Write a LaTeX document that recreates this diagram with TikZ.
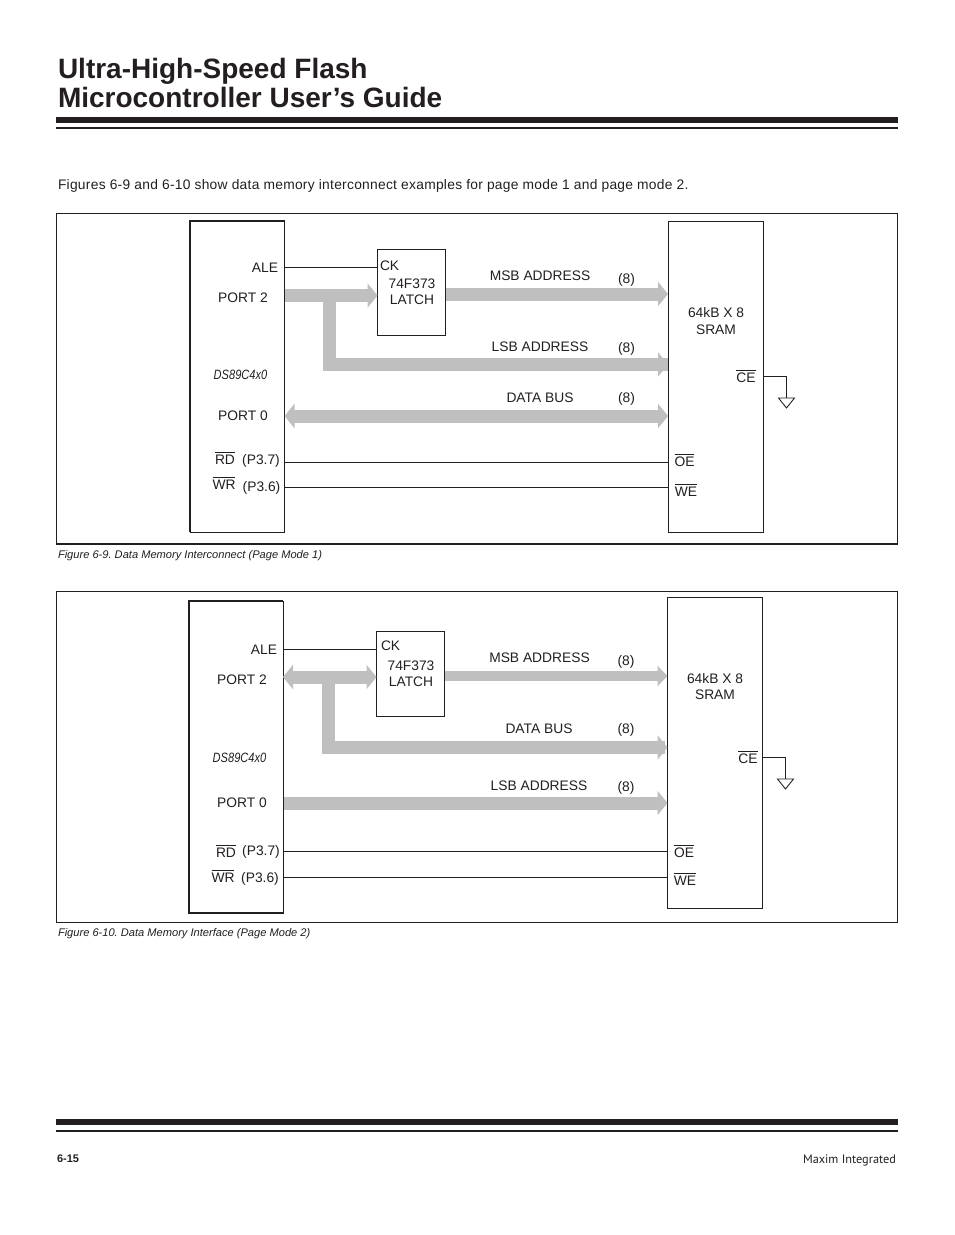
\documentclass[tikz,border=0pt]{standalone}
\usepackage{fontspec}
\usepackage{graphicx}
\setmainfont{Liberation Sans}
\newfontfamily\footfont{PT Sans}
\newfontfamily\introfont[LetterSpace=2]{Liberation Sans}
\usetikzlibrary{arrows.meta}

\definecolor{inkblack}{HTML}{231F20}
\definecolor{busgray}{HTML}{BFBFBF}
\newcommand{\sig}[1]{$\overline{\mbox{\rule{0pt}{10.6pt}#1}}$}
\newcommand{\chipname}{\scalebox{.82}[1]{DS89C4x0}}
\frenchspacing

\tikzset{
	page/.style={x=1pt, y=-1pt, inner sep=0, outer sep=0, text=inkblack, draw=inkblack},
	bustip/.tip={Triangle[width=24pt, length=10pt]},
	thintip/.tip={Triangle[width=20pt, length=10pt]},
	box/.style={draw=inkblack, line width=.9pt, inner sep=0, outer sep=0},
	wire/.style={draw=inkblack, line width=.9pt},
	bus/.style={draw=busgray, line width=13pt},
	lab/.style={anchor=base, inner sep=0, font=\fontsize{13.8}{16}\selectfont},
	labl/.style={anchor=base west, inner sep=0, font=\fontsize{13.8}{16}\selectfont},
	chip/.style={anchor=base, inner sep=0, font=\fontsize{13.5}{15}\itshape\selectfont},
	caption/.style={anchor=base west, inner sep=0, font=\fontsize{11.1}{13}\itshape\selectfont},
}

\begin{document}
\begin{tikzpicture}[page]
	\useasboundingbox[fill=white] (0,0) rectangle (954,1235);

	\node[anchor=base west, font=\fontsize{28}{32}\bfseries\selectfont] (title1) at (58,78) {Ultra-High-Speed Flash};
	\node[anchor=base west, font=\fontsize{28}{32}\bfseries\selectfont] (title2) at (58,107) {Microcontroller User’s Guide};
	\fill[inkblack] (56,117.3) rectangle (898,122.7);
	\fill[inkblack] (56,127.2) rectangle (898,129);
	\node[anchor=base west, font=\fontsize{13.8}{16}\introfont\selectfont] (intro) at (58,189) {Figures 6-9 and 6-10 show data memory interconnect examples for page mode 1 and page mode 2.};

	% page mode 1
	\node[box, minimum width=841pt, minimum height=330.5pt] (frame1) at (477,378.75) {};
	\draw[inkblack, line width=1.6pt] (frame1.south west) -- (frame1.south east);
	\node[box, minimum width=94.5pt, minimum height=311pt] (mcu1) at (237.25,376.5) {};
	\draw[inkblack, line width=2pt] (mcu1.south west) -- (mcu1.north west) -- (mcu1.north east);
	\node[box, minimum width=68pt, minimum height=85.5pt] (latch1) at (411.5,292.25) {};
	\node[box, minimum width=95.5pt, minimum height=311pt] (sram1) at (715.75,377) {};

	\coordinate (ale1) at (285,267.5);
	\coordinate (port1) at (329,295.5);
	\coordinate (msb1) at (445,294);
	\coordinate (lsb1) at (329,364.5);
	\coordinate (data1) at (285,416);
	\coordinate (rd1) at (285,462.5);
	\coordinate (wr1) at (285,487.5);
	\coordinate (ce1) at (764,376.5);
	\coordinate (gnd1) at (786.5,398);

	\draw[bus] (port1) -- (lsb1 -| port1) |- (sram1.west |- lsb1);
	\draw[bus, -bustip] (mcu1.east |- port1) -- (latch1.west |- port1);
	\draw[bus, -bustip] (latch1.east |- msb1) -- (sram1.west |- msb1);
	\draw[bus, -bustip] (lsb1) -- (sram1.west |- lsb1);
	\draw[bus, bustip-bustip] (mcu1.east |- data1) -- (sram1.west |- data1);
	\draw[wire] (ale1) -- (latch1.west |- ale1);
	\draw[wire] (rd1) -- (sram1.west |- rd1);
	\draw[wire] (wr1) -- (sram1.west |- wr1);
	\draw[wire] (ce1) -| (gnd1);
	\draw[wire] (gnd1) +(-8,0) -- +(8,0) -- +(0,10) -- cycle;

	\node[lab] (ale1t) at (265,272) {ALE};
	\node[lab] (port2a) at (243,302) {PORT 2};
	\node[chip] (chip1) at (240.5,379) {\chipname};
	\node[lab] (port0a) at (243,420) {PORT 0};
	\node[lab] (rd1t) at (225,464) {\sig{RD}};
	\node[lab] (p37a) at (261,464) {(P3.7)};
	\node[lab] (wr1t) at (224,489) {\sig{WR}};
	\node[lab] (p36a) at (261.5,491) {(P3.6)};
	\node[labl] (ck1) at (380,270) {CK};
	\node[lab] (f373a) at (412,288) {74F373};
	\node[lab] (latch1t) at (412,304) {LATCH};
	\node[lab] (msb1t) at (540,280) {MSB ADDRESS};
	\node[lab] (lsb1t) at (540,351) {LSB ADDRESS};
	\node[lab] (data1t) at (540,402) {DATA BUS};
	\node[lab] (w1a) at (626.5,283) {(8)};
	\node[lab] (w1b) at (626.5,352) {(8)};
	\node[lab] (w1c) at (626.5,402) {(8)};
	\node[lab] (ram1a) at (716,317) {64kB X 8};
	\node[lab] (ram1b) at (716,334) {SRAM};
	\node[lab] (ce1t) at (746,382) {\sig{CE}};
	\node[lab] (oe1t) at (684.5,466) {\sig{OE}};
	\node[lab] (we1t) at (686,496) {\sig{WE}};
	\node[caption] (cap1) at (58,558) {Figure 6-9. Data Memory Interconnect (Page Mode 1)};

	% page mode 2
	\node[box, minimum width=841pt, minimum height=331pt] (frame2) at (477,757) {};
	\node[box, minimum width=94.5pt, minimum height=312pt] (mcu2) at (235.75,757) {};
	\draw[inkblack, line width=2pt] (mcu2.north east) -- (mcu2.north west) -- (mcu2.south west) -- (mcu2.south east);
	\node[box, minimum width=68pt, minimum height=84.5pt] (latch2) at (410.5,673.75) {};
	\node[box, minimum width=95pt, minimum height=310.5pt] (sram2) at (715,752.75) {};

	\coordinate (ale2) at (284,649.5);
	\coordinate (port2) at (328.5,677);
	\coordinate (msb2) at (445,676);
	\coordinate (data2) at (328.5,747.5);
	\coordinate (lsb2) at (284,803);
	\coordinate (rd2) at (284,851.5);
	\coordinate (wr2) at (284,877.5);
	\coordinate (ce2) at (763,757);
	\coordinate (gnd2) at (785.5,779);

	\draw[bus] (port2) -- (data2);
	\draw[bus, bustip-bustip] (mcu2.east |- port2) -- (latch2.west |- port2);
	\draw[bus, line width=10pt, -thintip] (latch2.east |- msb2) -- (sram2.west |- msb2);
	\draw[bus, line cap=rect, -bustip] (data2) -- (sram2.west |- data2);
	\draw[bus, -bustip] (lsb2) -- (sram2.west |- lsb2);
	\draw[wire] (ale2) -- (latch2.west |- ale2);
	\draw[wire] (rd2) -- (sram2.west |- rd2);
	\draw[wire] (wr2) -- (sram2.west |- wr2);
	\draw[wire] (ce2) -| (gnd2);
	\draw[wire] (gnd2) +(-8,0) -- +(8,0) -- +(0,10) -- cycle;

	\node[lab] (ale2t) at (264,654) {ALE};
	\node[lab] (port2b) at (242,684) {PORT 2};
	\node[chip] (chip2) at (239.5,762) {\chipname};
	\node[lab] (port0b) at (242,807) {PORT 0};
	\node[lab] (rd2t) at (226,857) {\sig{RD}};
	\node[lab] (p37b) at (261,855) {(P3.7)};
	\node[lab] (wr2t) at (223,882) {\sig{WR}};
	\node[lab] (p36b) at (260,882) {(P3.6)};
	\node[labl] (ck2) at (381,650) {CK};
	\node[lab] (f373b) at (411,670) {74F373};
	\node[lab] (latch2t) at (411,686) {LATCH};
	\node[lab] (msb2t) at (539.5,662) {MSB ADDRESS};
	\node[lab] (data2t) at (539,733) {DATA BUS};
	\node[lab] (lsb2t) at (539,790) {LSB ADDRESS};
	\node[lab] (w2a) at (626,665) {(8)};
	\node[lab] (w2b) at (626,733) {(8)};
	\node[lab] (w2c) at (626,791) {(8)};
	\node[lab] (ram2a) at (715,683) {64kB X 8};
	\node[lab] (ram2b) at (715,699) {SRAM};
	\node[lab] (ce2t) at (748,763) {\sig{CE}};
	\node[lab] (oe2t) at (684,857) {\sig{OE}};
	\node[lab] (we2t) at (685,885) {\sig{WE}};
	\node[caption] (cap2) at (58,936) {Figure 6-10. Data Memory Interface (Page Mode 2)};

	\fill[inkblack] (56,1119) rectangle (898,1125);
	\fill[inkblack] (56,1130) rectangle (898,1132);
	\node[anchor=base west, font=\fontsize{11}{13}\bfseries\selectfont] (pageno) at (57,1162) {6-15};
	\node[anchor=base east, font=\fontsize{12.3}{14}\footfont\selectfont] (maker) at (896,1163) {Maxim Integrated};
\end{tikzpicture}
\end{document}
